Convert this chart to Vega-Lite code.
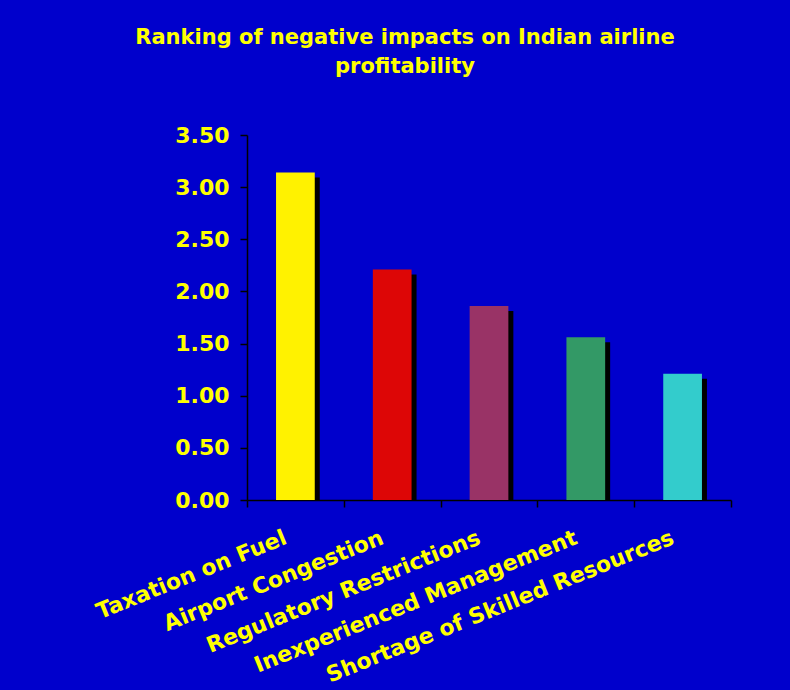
{
  "$schema": "https://vega.github.io/schema/vega-lite/v6.json",
  "width": 484,
  "height": 365,
  "autosize": "none",
  "padding": {"left": 247, "top": 135, "right": 59, "bottom": 190},
  "background": "#0000CC",
  "config": {"view": {"stroke": null}, "font": "DejaVu Sans"},
  "title": {
    "text": ["Ranking of negative impacts on Indian airline", "profitability"],
    "color": "#FFFF00",
    "fontSize": 21,
    "fontWeight": "bold",
    "anchor": "middle",
    "frame": "group",
    "dx": -84,
    "offset": 47,
    "lineHeight": 29
  },
  "data": {
    "values": [
      {"impact": "Taxation on Fuel", "score": 3.14},
      {"impact": "Airport Congestion", "score": 2.21},
      {"impact": "Regulatory Restrictions", "score": 1.86},
      {"impact": "Inexperienced Management", "score": 1.56},
      {"impact": "Shortage of Skilled Resources", "score": 1.21}
    ]
  },
  "encoding": {
    "x": {
      "field": "impact",
      "type": "nominal",
      "sort": null,
      "title": null,
      "scale": {"paddingInner": 0, "paddingOuter": 0},
      "axis": {
        "tickBand": "extent",
        "tickSize": 7,
        "tickColor": "black",
        "tickWidth": 1.5,
        "domainColor": "black",
        "domainWidth": 1.5,
        "labelAngle": -22,
        "labelAlign": "right",
        "labelBaseline": "top",
        "labelFontSize": 22,
        "labelFontWeight": "bold",
        "labelColor": "#FFFF00",
        "labelPadding": 20,
        "labelOffset": -14,
        "labelLimit": 500
      }
    },
    "y": {
      "field": "score",
      "type": "quantitative",
      "title": null,
      "scale": {"domain": [0, 3.5]},
      "axis": {
        "values": [0, 0.5, 1, 1.5, 2, 2.5, 3, 3.5],
        "format": ".2f",
        "grid": false,
        "tickSize": 7,
        "tickColor": "black",
        "tickWidth": 1.5,
        "domainColor": "black",
        "domainWidth": 1.5,
        "labelFontSize": 22,
        "labelFontWeight": "bold",
        "labelColor": "#FFFF00",
        "labelPadding": 11
      }
    }
  },
  "layer": [
    {
      "mark": {"type": "bar", "color": "black", "xOffset": 5, "yOffset": 5, "y2Offset": 0, "width": {"band": 0.4}},
      "encoding": {"y2": {"datum": 0}}
    },
    {
      "mark": {"type": "bar", "width": {"band": 0.4}},
      "encoding": {
        "color": {
          "field": "impact",
          "type": "nominal",
          "legend": null,
          "scale": {
            "domain": ["Taxation on Fuel", "Airport Congestion", "Regulatory Restrictions", "Inexperienced Management", "Shortage of Skilled Resources"],
            "range": ["#FFF200", "#DD0606", "#993366", "#339966", "#33CCCC"]
          }
        }
      }
    }
  ]
}
